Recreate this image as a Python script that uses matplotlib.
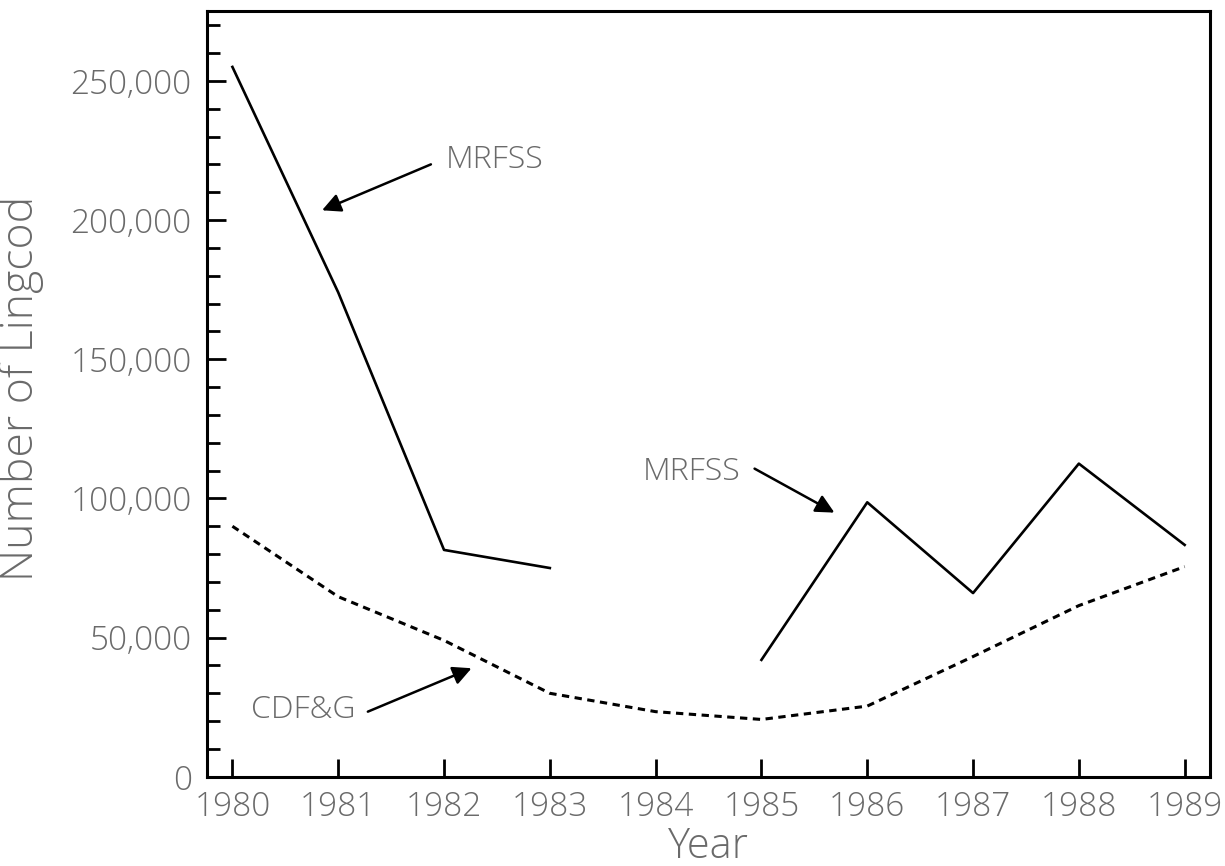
import numpy as np
import matplotlib.pyplot as plt
from matplotlib.ticker import FuncFormatter, MultipleLocator

# data
years = [1980, 1981, 1982, 1983, 1984, 1985, 1986, 1987, 1988, 1989]
mrfss_a_years = [1980, 1981, 1982, 1983]
mrfss_a = [255000, 174000, 81500, 75000]
mrfss_b_years = [1985, 1986, 1987, 1988, 1989]
mrfss_b = [42000, 98600, 66000, 112500, 83300]
cdfg = [90000, 64700, 49000, 30000, 23400, 20600, 25400, 43200, 61500, 75500]
yticks = [0, 50000, 100000, 150000, 200000, 250000]

plt.rcParams['font.family'] = ['Open Sans', 'DejaVu Sans']
txt_color = '#6a6a6a'

fig = plt.figure(figsize=(12.25, 8.66), dpi=100)
ax = fig.add_axes([0.169, 0.103, 0.8188, 0.884])

ax.plot(mrfss_a_years, mrfss_a, color='black', lw=1.9)
ax.plot(mrfss_b_years, mrfss_b, color='black', lw=1.9)
ax.plot(years, cdfg, color='black', lw=2.2, linestyle=(0, (2.4, 1.8)))

ax.set_xlim(1979.76, 1989.24)
ax.set_ylim(0, 275000)
ax.set_xticks(years)
ax.set_yticks(yticks)
ax.yaxis.set_minor_locator(MultipleLocator(10000))
ax.yaxis.set_major_formatter(FuncFormatter(lambda v, p: '{:,.0f}'.format(v)))

for s in ax.spines.values():
    s.set_linewidth(2.2)
ax.tick_params(which='both', direction='in', width=2.0, colors='black',
               labelcolor=txt_color, labelsize=24)
ax.tick_params(axis='y', which='major', length=14, pad=11)
ax.tick_params(axis='y', which='minor', length=9)
ax.tick_params(axis='x', which='major', length=13, pad=10)
for lab in ax.get_xticklabels() + ax.get_yticklabels():
    lab.set_fontweight('light')

ax.set_xlabel('Year', fontsize=30, color=txt_color, fontweight='light')
ax.set_ylabel('Number of Lingcod', fontsize=32, color=txt_color, fontweight='light')
ax.xaxis.set_label_coords(0.5, -0.064)
ax.yaxis.set_label_coords(-0.1625, 0.507)

# annotations: arrows and their labels
arrow = dict(arrowstyle='-|>', color='black', lw=1.8, mutation_scale=28, shrinkA=0, shrinkB=0)
ax.annotate('', xy=(1980.847, 203500), xytext=(1981.876, 220000), arrowprops=arrow)
ax.annotate('', xy=(1985.69, 94900), xytext=(1984.935, 110700), arrowprops=arrow)
ax.annotate('', xy=(1982.26, 39000), xytext=(1981.28, 23400), arrowprops=arrow)

lab_kw = dict(fontsize=23, color=txt_color, fontweight='light', va='center', ha='left')
ax.text(1982.02, 221500, 'MRFSS', **lab_kw)
ax.text(1983.877, 109600, 'MRFSS', **lab_kw)
ax.text(1980.18, 24000, 'CDF&G', **lab_kw)

fig.savefig('out.png', dpi=100)
